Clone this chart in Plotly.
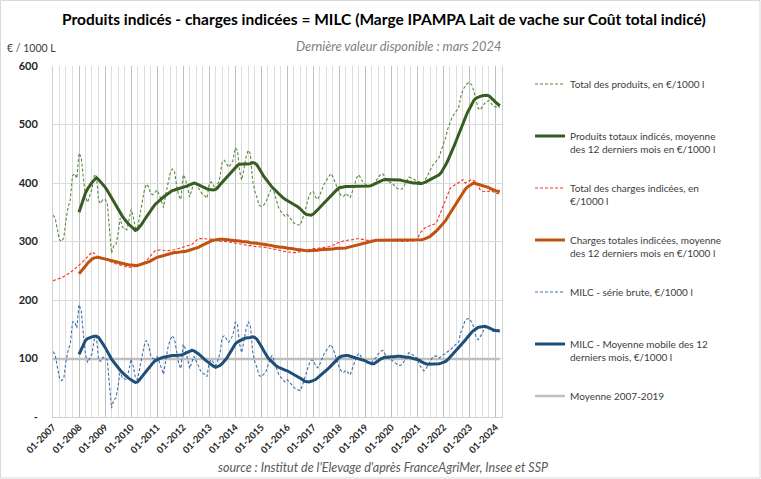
import pandas as pd
import plotly.graph_objects as go

# ---------------- data (monthly, 01-2007 .. 03-2024) ----------------
START = "2007-01-01"

TOTAL_PRODUITS = [
    345, 340, 322, 303, 300, 306, 336, 358, 372, 412, 416, 408,   # 2007
    451, 444, 410, 376, 367, 378, 390, 412, 414, 370, 365, 372,   # 2008
    372, 365, 330, 280, 292, 294, 313, 340, 324, 322, 320, 336,   # 2009
    355, 342, 324, 322, 345, 362, 385, 398, 394, 382, 380, 384,   # 2010
    388, 380, 370, 358, 380, 402, 416, 424, 420, 396, 378, 372,   # 2011
    414, 408, 394, 376, 388, 402, 398, 392, 384, 380, 378, 374,   # 2012
    399, 402, 396, 390, 398, 410, 436, 439, 433, 427, 432, 439,   # 2013
    460, 456, 422, 405, 422, 444, 456, 450, 405, 387, 376, 362,   # 2014
    360, 362, 366, 375, 387, 393, 384, 370, 358, 352, 347, 343,   # 2015
    346, 341, 336, 332, 329, 328, 328, 338, 352, 366, 377, 385,   # 2016
    385, 376, 372, 379, 389, 398, 404, 411, 416, 411, 401, 391,   # 2017
    383, 378, 377, 382, 378, 375, 385, 398, 409, 414, 408, 401,   # 2018
    398, 394, 394, 396, 400, 404, 410, 414, 416, 410, 404, 402,   # 2019
    400, 397, 393, 390, 389, 390, 396, 404, 410, 409, 407, 404,   # 2020
    403, 402, 401, 400, 408, 416, 424, 430, 434, 438, 444, 456,   # 2021
    467, 478, 492, 504, 512, 518, 523, 528, 548, 560, 565, 570,   # 2022
    572, 568, 558, 540, 528, 525, 530, 536, 539, 541, 536, 531,   # 2023
    530, 531, 529,                                                # 2024
]

PRODUITS_MA12 = [
    350, 362, 374, 383, 390, 396, 401, 405, 409, 406, 402, 398,   # 2008
    393, 387, 381, 375, 368, 361, 355, 349, 343, 338, 333, 329,   # 2009
    326, 322, 319, 321, 325, 330, 336, 342, 348, 353, 358, 363,   # 2010
    367, 370, 373, 376, 379, 382, 385, 387, 388, 389, 390, 391,   # 2011
    392, 393, 395, 397, 399, 400, 399, 397, 395, 393, 391, 390,   # 2012
    389, 388, 388, 389, 392, 397, 401, 405, 409, 413, 418, 423,   # 2013
    427, 430, 432, 432, 432, 432, 432, 433, 435, 434, 431, 426,   # 2014
    419, 412, 407, 402, 398, 393, 390, 386, 382, 378, 375, 372,   # 2015
    370, 368, 366, 364, 362, 359, 356, 352, 348, 346, 345, 345,   # 2016
    347, 350, 354, 358, 362, 366, 370, 374, 378, 382, 386, 389,   # 2017
    392, 393, 394, 394, 394, 394, 394, 394, 394, 394, 394, 394,   # 2018
    394, 394, 395, 396, 398, 400, 402, 404, 405, 406, 406, 406,   # 2019
    406, 406, 406, 406, 405, 404, 403, 402, 401, 401, 400, 400,   # 2020
    399, 399, 399, 400, 402, 404, 406, 408, 410, 412, 414, 418,   # 2021
    424, 431, 438, 446, 455, 464, 473, 483, 493, 503, 512, 520,   # 2022
    527, 535, 541, 545, 547, 548, 549, 550, 550, 549, 546, 542,   # 2023
    538, 535, 532,                                                # 2024
]

TOTAL_CHARGES = [
    233, 234, 235, 236, 238, 240, 242, 244, 247, 250, 253, 256,   # 2007
    259, 262, 266, 270, 274, 278, 282, 280, 276, 272, 270, 270,   # 2008
    270, 268, 266, 265, 263, 262, 261, 260, 258, 257, 256, 256,   # 2009
    256, 256, 257, 258, 260, 262, 264, 267, 271, 276, 280, 284,   # 2010
    285, 286, 286, 285, 284, 284, 285, 285, 286, 287, 288, 289,   # 2011
    290, 291, 292, 293, 295, 298, 302, 305, 305, 305, 305, 305,   # 2012
    305, 304, 303, 302, 302, 301, 300, 300, 300, 299, 299, 298,   # 2013
    298, 297, 296, 295, 294, 294, 293, 293, 292, 292, 291, 291,   # 2014
    291, 290, 290, 289, 289, 288, 287, 286, 285, 284, 283, 283,   # 2015
    282, 282, 281, 281, 281, 282, 283, 284, 285, 286, 287, 288,   # 2016
    288, 288, 288, 289, 289, 290, 290, 291, 292, 293, 295, 297,   # 2017
    299, 300, 301, 302, 302, 303, 303, 304, 305, 305, 304, 303,   # 2018
    302, 302, 302, 302, 302, 302, 302, 302, 302, 302, 302, 302,   # 2019
    302, 302, 301, 301, 301, 300, 300, 300, 300, 301, 301, 302,   # 2020
    302, 314, 318, 321, 325, 326, 327, 328, 330, 334, 343, 352,   # 2021
    360, 370, 380, 390, 394, 396, 398, 400, 403, 406, 400, 402,   # 2022
    404, 406, 404, 402, 396, 388, 386, 385, 385, 386, 387, 385,   # 2023
    382, 382, 381,                                                # 2024
]

CHARGES_MA12 = [
    245, 249, 253, 258, 263, 267, 270, 272, 273, 273, 272, 271,   # 2008
    270, 269, 268, 267, 266, 265, 264, 263, 262, 261, 261, 260,   # 2009
    260, 259, 259, 259, 260, 261, 262, 264, 265, 267, 269, 272,   # 2010
    273, 274, 275, 276, 277, 278, 279, 280, 281, 281, 282, 282,   # 2011
    283, 283, 284, 285, 286, 287, 288, 290, 292, 294, 296, 298,   # 2012
    299, 301, 302, 303, 304, 304, 304, 304, 303, 303, 302, 302,   # 2013
    302, 301, 301, 300, 300, 299, 299, 298, 298, 297, 297, 296,   # 2014
    296, 295, 295, 294, 294, 293, 292, 291, 291, 290, 290, 289,   # 2015
    289, 288, 288, 287, 287, 286, 286, 285, 285, 284, 284, 284,   # 2016
    284, 285, 285, 286, 286, 287, 287, 287, 287, 287, 288, 288,   # 2017
    288, 288, 289, 289, 290, 291, 292, 293, 294, 295, 296, 297,   # 2018
    298, 299, 300, 301, 302, 302, 302, 302, 302, 302, 302, 302,   # 2019
    302, 302, 302, 302, 302, 302, 302, 302, 302, 302, 302, 302,   # 2020
    302, 302, 303, 304, 305, 307, 309, 312, 315, 319, 323, 327,   # 2021
    331, 336, 342, 348, 354, 360, 366, 372, 378, 384, 389, 393,   # 2022
    396, 398, 400, 399, 398, 397, 396, 395, 393, 392, 390, 388,   # 2023
    387, 386, 385,                                                # 2024
]

MILC_BRUTE = [
    112, 106, 87, 67, 62, 66, 94, 114, 125, 162, 163, 152,        # 2007
    192, 182, 144, 106, 93, 100, 108, 132, 138, 98, 95, 102,      # 2008
    102, 97, 64, 15, 29, 32, 52, 80, 66, 65, 64, 80,              # 2009
    99, 86, 67, 64, 85, 100, 121, 131, 123, 106, 100, 100,        # 2010
    103, 94, 84, 73, 96, 118, 131, 139, 134, 109, 90, 83,         # 2011
    124, 117, 102, 83, 93, 104, 96, 87, 79, 75, 73, 69,           # 2012
    94, 98, 93, 88, 96, 109, 136, 139, 133, 128, 133, 141,        # 2013
    162, 159, 126, 110, 128, 150, 163, 157, 113, 95, 85, 71,      # 2014
    69, 72, 76, 86, 98, 105, 97, 84, 73, 68, 64, 60,              # 2015
    64, 59, 55, 51, 48, 46, 45, 54, 67, 80, 90, 97,               # 2016
    97, 88, 84, 90, 100, 108, 114, 120, 124, 118, 106, 94,        # 2017
    84, 78, 76, 80, 76, 72, 82, 94, 104, 109, 104, 98,            # 2018
    96, 92, 92, 94, 98, 102, 108, 112, 114, 108, 102, 100,        # 2019
    98, 95, 92, 89, 88, 90, 96, 104, 110, 108, 106, 102,          # 2020
    101, 88, 83, 79, 83, 90, 97, 102, 104, 104, 101, 104,         # 2021
    107, 108, 112, 114, 118, 122, 125, 128, 145, 154, 165, 168,   # 2022
    168, 162, 154, 138, 132, 137, 144, 151, 154, 155, 149, 146,   # 2023
    148, 149, 148,                                                # 2024
]

MILC_MA12 = [
    107, 116, 124, 131, 134, 136, 137, 138, 138, 136, 131, 125,   # 2008
    119, 113, 106, 99, 94, 89, 84, 80, 76, 72, 69, 66,            # 2009
    63, 61, 59, 60, 64, 69, 74, 79, 84, 88, 92, 96,               # 2010
    98, 100, 101, 102, 103, 104, 105, 105, 105, 105, 105, 106,    # 2011
    107, 109, 111, 113, 114, 113, 111, 108, 105, 101, 98, 95,     # 2012
    92, 89, 87, 85, 86, 88, 91, 95, 100, 106, 112, 119,           # 2013
    125, 128, 130, 132, 134, 135, 135, 136, 137, 136, 133, 128,   # 2014
    121, 114, 107, 102, 98, 94, 90, 87, 85, 83, 81, 80,           # 2015
    79, 77, 75, 73, 71, 69, 67, 64, 61, 60, 60, 61,               # 2016
    62, 64, 67, 70, 73, 76, 79, 83, 87, 91, 95, 99,               # 2017
    102, 104, 105, 105, 105, 104, 103, 102, 101, 100, 99, 98,     # 2018
    96, 94, 92, 91, 91, 93, 96, 99, 101, 102, 102, 103,           # 2019
    103, 103, 104, 104, 104, 103, 103, 102, 102, 101, 100, 100,   # 2020
    99, 97, 94, 92, 91, 90, 90, 90, 90, 90, 91, 92,               # 2021
    93, 95, 98, 102, 106, 110, 115, 119, 123, 127, 131, 136,      # 2022
    141, 145, 148, 151, 153, 154, 155, 155, 154, 152, 150, 149,   # 2023
    148, 147, 147,                                                # 2024
]

MOYENNE_2007_2019 = 99

Y_TICKS = [0, 100, 200, 300, 400, 500, 600]
Y_TICKTEXT = ["-", "100", "200", "300", "400", "500", "600"]
X_TICK_YEARS = list(range(2007, 2025))

LABELS = [
    "Total des produits, en €/1000 l",
    "Produits totaux indicés, moyenne<br>des 12 derniers mois en €/1000 l",
    "Total des charges indicées, en<br>€/1000 l",
    "Charges totales indicées, moyenne<br>des 12 derniers mois en €/1000 l",
    "MILC - série brute, €/1000 l",
    "MILC - Moyenne mobile des 12<br>derniers mois, €/1000 l",
    "Moyenne 2007-2019",
]

# ---------------- figure ----------------
dates = pd.date_range(START, periods=len(TOTAL_PRODUITS), freq="MS")
ma_dates = dates[len(dates) - len(PRODUITS_MA12):]
x_tickvals = [pd.Timestamp(year=y, month=1, day=1) for y in X_TICK_YEARS]
x_ticktext = ["<b>01-%d</b>" % y for y in X_TICK_YEARS]

FONT = "Lato"
W, H = 761, 479
L, R, T, B = 53, 259, 66, 62   # plot area 53..502 x 66..417
pw, ph = W - L - R, H - T - B


def px_x(x):
    return (x - L) / pw


def px_y(y):
    return (H - B - y) / ph


def pad(label):
    return label if "<br>" in label else label + "<br> "


fig = go.Figure()

DASH = "3px,2px"
fig.add_trace(go.Scatter(x=[dates[0], dates[-1]], y=[MOYENNE_2007_2019] * 2, mode="lines",
                         line=dict(color="#bfbfbf", width=2.5), name=pad(LABELS[6]),
                         legendgroup="g7", legendrank=7))
fig.add_trace(go.Scatter(x=dates, y=TOTAL_PRODUITS, mode="lines",
                         line=dict(color="#5b8a3c", width=1.1, dash=DASH), name=pad(LABELS[0]),
                         legendgroup="g1", legendrank=1))
fig.add_trace(go.Scatter(x=dates, y=TOTAL_CHARGES, mode="lines",
                         line=dict(color="#ff2a2a", width=1.1, dash=DASH), name=pad(LABELS[2]),
                         legendgroup="g3", legendrank=3))
fig.add_trace(go.Scatter(x=dates, y=MILC_BRUTE, mode="lines",
                         line=dict(color="#3f70a8", width=1.1, dash=DASH), name=pad(LABELS[4]),
                         legendgroup="g5", legendrank=5))
fig.add_trace(go.Scatter(x=ma_dates, y=PRODUITS_MA12, mode="lines",
                         line=dict(color="#385d22", width=3), name=pad(LABELS[1]),
                         legendgroup="g2", legendrank=2))
fig.add_trace(go.Scatter(x=ma_dates, y=CHARGES_MA12, mode="lines",
                         line=dict(color="#c0530f", width=3), name=pad(LABELS[3]),
                         legendgroup="g4", legendrank=4))
fig.add_trace(go.Scatter(x=ma_dates, y=MILC_MA12, mode="lines",
                         line=dict(color="#1f4e79", width=3), name=pad(LABELS[5]),
                         legendgroup="g6", legendrank=6))

fig.update_layout(
    width=W, height=H,
    margin=dict(l=L, r=R, t=T, b=B),
    paper_bgcolor="white", plot_bgcolor="white",
    font=dict(family=FONT, color="#404040"),
    showlegend=True,
    legend=dict(x=px_x(530), y=px_y(71), xanchor="left", yanchor="top",
                font=dict(size=10, color="#404040", family=FONT),
                itemwidth=30, valign="top", tracegroupgap=23,
                bgcolor="rgba(0,0,0,0)", traceorder="grouped"),
    xaxis=dict(
        type="date", range=["2007-01-01", "2024-04-01"],
        tickmode="array", tickvals=x_tickvals, ticktext=x_ticktext, tickangle=-45,
        tickfont=dict(size=9.5, color="#262626", family=FONT),
        showgrid=True, gridcolor="#bfbfbf", gridwidth=1,
        minor=dict(dtick="M3", tick0="2007-01-01", showgrid=True, gridcolor="#dedede", gridwidth=1),
        showline=True, linecolor="#d0d0d0", linewidth=1,
        ticks="", zeroline=False, fixedrange=True,
    ),
    yaxis=dict(
        range=[0, 600], tickvals=Y_TICKS, ticktext=["<b>%s</b>" % t for t in Y_TICKTEXT],
        tickfont=dict(size=11, color="#262626", family=FONT),
        showgrid=True, gridcolor="#dcdcdc", gridwidth=1,
        showline=True, mirror=True, linecolor="#d0d0d0", linewidth=1,
        ticks="", zeroline=False, ticklabelstandoff=12,
    ),
    annotations=[
        dict(text="<b>Produits indicés - charges indicées = MILC (Marge IPAMPA Lait de vache sur Coût total indicé)</b>",
             x=px_x(384), y=px_y(19), xref="paper", yref="paper", xanchor="center", yanchor="middle",
             showarrow=False, font=dict(size=15.5, color="#000000", family=FONT)),
        dict(text="<i>Dernière valeur disponible : mars 2024</i>",
             x=px_x(398), y=px_y(46), xref="paper", yref="paper", xanchor="center", yanchor="middle",
             showarrow=False, font=dict(size=12.8, color="#7f7f7f", family=FONT)),
        dict(text="€ / 1000 L",
             x=px_x(5), y=px_y(48), xref="paper", yref="paper", xanchor="left", yanchor="middle",
             showarrow=False, font=dict(size=10.5, color="#404040", family=FONT)),
        dict(text="<i>source : Institut de l'Elevage d'après FranceAgriMer, Insee et SSP</i>",
             x=px_x(383), y=px_y(467), xref="paper", yref="paper", xanchor="center", yanchor="middle",
             showarrow=False, font=dict(size=12.5, color="#595959", family=FONT)),
    ],
    shapes=[
        dict(type="rect", xref="paper", yref="paper",
             x0=px_x(0.5), x1=px_x(W - 1), y0=px_y(H - 1), y1=px_y(0.5),
             line=dict(color="#d9d9d9", width=1), fillcolor="rgba(0,0,0,0)", layer="below"),
    ],
)

fig.write_html("out.html", config={"displayModeBar": False},
               post_script="document.body.style.margin='0';")
